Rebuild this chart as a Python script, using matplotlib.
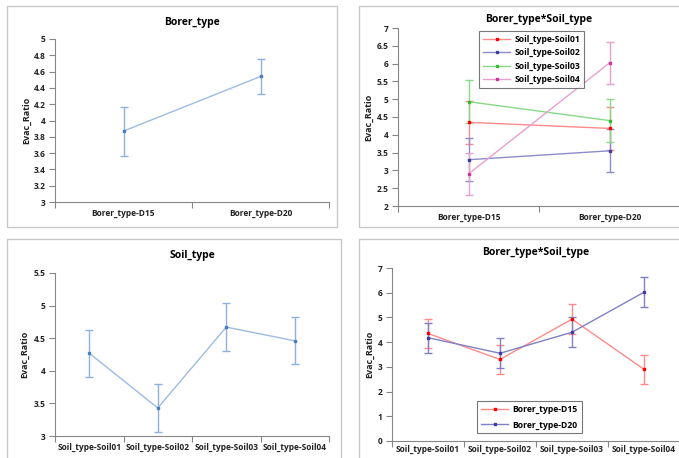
import matplotlib
matplotlib.use("Agg")
import matplotlib.pyplot as plt
from matplotlib.patches import Rectangle
from matplotlib.lines import Line2D
import numpy as np

plt.rcParams['font.family'] = ['Open Sans', 'DejaVu Sans']

# ---- data ----
borer_cats = ["Borer_type-D15", "Borer_type-D20"]
borer_mean = [3.87, 4.54]
borer_err = [0.30, 0.21]

soil_cats = ["Soil_type-Soil01", "Soil_type-Soil02", "Soil_type-Soil03", "Soil_type-Soil04"]
soil_mean = [4.27, 3.43, 4.67, 4.46]
soil_err = [0.36, 0.37, 0.37, 0.36]

# interaction: rows = soil, cols = borer (D15, D20)
soil01 = [4.35, 4.18]
soil02 = [3.30, 3.55]
soil03 = [4.93, 4.40]
soil04 = [2.90, 6.02]
inter_err = 0.60
d15 = [4.35, 3.30, 4.93, 2.90]
d20 = [4.18, 3.55, 4.40, 6.02]

W, H = 679, 458
fig = plt.figure(figsize=(W / 100, H / 100), dpi=100)
fig.patch.set_facecolor('white')

TFS = 6.0  # tick font size
MS = 2.0


def ax_px(l, t, r, b):
    return fig.add_axes([l / W, 1 - b / H, (r - l) / W, (b - t) / H])


def frame(l, t, r, b):
    fig.patches.append(Rectangle((l / W, 1 - b / H), (r - l) / W, (b - t) / H,
                                 transform=fig.transFigure, fill=False,
                                 edgecolor='#c8c8c8', linewidth=1.0))


def style(ax, ncat, cats, ylim, yticks, yfmt, label_x):
    ax.set_xlim(0, ncat)
    ax.set_ylim(*ylim)
    for s in ['top', 'right']:
        ax.spines[s].set_visible(False)
    for s in ['left', 'bottom']:
        ax.spines[s].set_color('#868686')
        ax.spines[s].set_linewidth(0.8)
    ax.set_yticks(yticks)
    ax.set_yticklabels([yfmt(v) for v in yticks], fontsize=TFS, fontweight='bold', color='#222222')
    ax.set_xticks(np.arange(ncat + 1))
    ax.set_xticklabels([])
    ax.set_xticks(np.arange(ncat) + 0.5, minor=True)
    ax.set_xticklabels(cats, minor=True, fontsize=TFS, fontweight='bold', color='#222222')
    ax.tick_params(axis='x', which='minor', length=0, pad=5)
    ax.tick_params(axis='x', which='major', length=4, color='#868686', direction='out')
    ax.tick_params(axis='y', length=4, color='#868686', pad=3)
    ax.set_ylabel("Evac_Ratio", fontsize=6.5, fontweight='bold', color='#222222')
    ax.yaxis.set_label_coords(label_x, 0.5)
    ax.patch.set_alpha(0)


def fmt_g(v):
    return ('%g' % v)


def make_legend(ax, handles, left_px, top_px, ax_l, ax_t, ax_w, ax_h, spacing):
    leg = ax.legend(handles=handles, loc='upper left',
                    bbox_to_anchor=((left_px - ax_l) / ax_w, 1 - (top_px - ax_t) / ax_h),
                    borderaxespad=0, frameon=True, fancybox=False, handlelength=3.2,
                    handletextpad=0.5, borderpad=0.45, labelspacing=spacing,
                    prop={'weight': 'bold', 'size': 6.2})
    leg.get_frame().set_edgecolor('#555555')
    leg.get_frame().set_linewidth(0.8)
    return leg


# frames
frame(7, 6, 337, 227)
frame(359, 6, 690, 227)
frame(7, 239, 341, 470)
frame(359, 239, 690, 470)

# ---- panel 1 ----
ax1 = ax_px(55, 39, 329, 202)
x = np.arange(len(borer_cats)) + 0.5
ax1.errorbar(x, borer_mean, yerr=borer_err, color='#9dbbe3', ecolor='#8eb0dc', lw=1.0,
             elinewidth=1.0, capsize=3, marker='s', ms=MS, mfc='#4a7ebb', mec='#4a7ebb')
style(ax1, 2, borer_cats, (3, 5), np.arange(3, 5.01, 0.2), lambda v: '%g' % round(v, 1), -0.088)
ax1.set_title("Borer_type", fontsize=7.5, fontweight='bold', pad=10)

# ---- panel 2 ----
ax2 = ax_px(398, 28, 680, 206)
series2 = [(soil01, '#ff0000', '#ff8a8a', "Soil_type-Soil01"),
           (soil02, '#3a3ca0', '#8c8cc8', "Soil_type-Soil02"),
           (soil03, '#33bb33', '#88d888', "Soil_type-Soil03"),
           (soil04, '#cc3399', '#e8a0d0', "Soil_type-Soil04")]
h2 = []
for vals, mc, lc, lab in series2:
    ax2.errorbar(x, vals, yerr=inter_err, color=lc, ecolor=lc, lw=1.0, elinewidth=1.0,
                 capsize=3, marker='s', ms=MS, mfc=mc, mec=mc)
    h2.append(Line2D([], [], color=lc, lw=1.0, marker='s', ms=MS, mfc=mc, mec=mc, label=lab))
style(ax2, 2, borer_cats, (2, 7), np.arange(2, 7.01, 0.5), fmt_g, -0.089)
ax2.set_title("Borer_type*Soil_type", fontsize=7.5, fontweight='bold', pad=4)
make_legend(ax2, h2, 479, 31, 398, 28, 282, 178, 0.5)

# ---- panel 3 ----
ax3 = ax_px(55, 273, 329, 436)
x4 = np.arange(len(soil_cats)) + 0.5
ax3.errorbar(x4, soil_mean, yerr=soil_err, color='#9dbbe3', ecolor='#8eb0dc', lw=1.0,
             elinewidth=1.0, capsize=3, marker='s', ms=MS, mfc='#4a7ebb', mec='#4a7ebb')
style(ax3, 4, soil_cats, (3, 5.5), np.arange(3, 5.51, 0.5), fmt_g, -0.095)
ax3.set_title("Soil_type", fontsize=7.5, fontweight='bold', pad=11)

# ---- panel 4 ----
ax4 = ax_px(392, 268, 680, 441)
ax4.errorbar(x4, d15, yerr=inter_err, color='#ff8a8a', ecolor='#ff8a8a', lw=1.0, elinewidth=1.0,
             capsize=3, marker='s', ms=MS, mfc='#ff0000', mec='#ff0000')
ax4.errorbar(x4, d20, yerr=inter_err, color='#8080c4', ecolor='#8080c4', lw=1.0, elinewidth=1.0,
             capsize=3, marker='s', ms=MS, mfc='#3a3ca0', mec='#3a3ca0')
h4 = [Line2D([], [], color='#ff8a8a', lw=1.0, marker='s', ms=MS, mfc='#ff0000', mec='#ff0000',
             label="Borer_type-D15"),
      Line2D([], [], color='#8080c4', lw=1.0, marker='s', ms=MS, mfc='#3a3ca0', mec='#3a3ca0',
             label="Borer_type-D20")]
style(ax4, 4, soil_cats, (0, 7), np.arange(0, 7.01, 1), fmt_g, -0.0625)
ax4.set_title("Borer_type*Soil_type", fontsize=7.5, fontweight='bold', pad=9)
ax4.tick_params(axis='x', which='minor', pad=3)
make_legend(ax4, h4, 477, 401, 392, 268, 288, 173, 0.75)

fig.savefig("out.png", dpi=100)
